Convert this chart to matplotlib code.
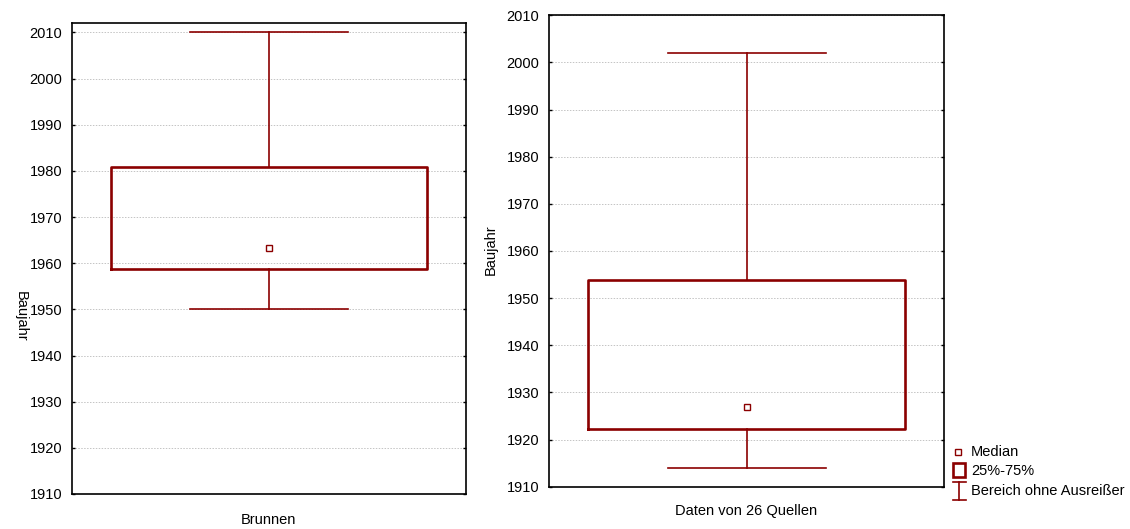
import matplotlib
matplotlib.use("Agg")
import matplotlib.pyplot as plt
from matplotlib.lines import Line2D
from matplotlib.patches import Rectangle

plt.rcParams['font.family'] = ['Liberation Sans', 'DejaVu Sans']
plt.rcParams['font.size'] = 10.5

# --- data ---
panel_labels = ["Brunnen", "Daten von 26 Quellen"]
medians = [1963.4, 1927.0]
q1 = [1958.8, 1922.2]
q3 = [1980.9, 1953.9]
whis_lo = [1950.0, 1914.0]
whis_hi = [2010.0, 2002.0]
y_ticks = [1910, 1920, 1930, 1940, 1950, 1960, 1970, 1980, 1990, 2000, 2010]
y_limits = [(1910, 2012.1), (1910, 2010)]
y_label = "Baujahr"
legend_labels = ["Median", "25%-75%", "Bereich ohne Ausreißer"]

red = '#8b0000'
fig = plt.figure(figsize=(11.3, 5.29), dpi=100)

# axes rectangles in figure fractions (left, bottom, width, height)
rects = [(0.0635, 0.0662, 0.3489, 0.8908), (0.4858, 0.0800, 0.3499, 0.8911)]

for i, rect in enumerate(rects):
    ax = fig.add_axes(rect)
    stats = [dict(med=medians[i], q1=q1[i], q3=q3[i],
                  whislo=whis_lo[i], whishi=whis_hi[i], fliers=[])]
    ax.bxp(stats, positions=[0], widths=0.8, capwidths=0.4,
           showfliers=False,
           boxprops=dict(color=red, linewidth=1.9),
           whiskerprops=dict(color=red, linewidth=1.2),
           capprops=dict(color=red, linewidth=1.2),
           medianprops=dict(linestyle='none'))
    ax.plot([0], [medians[i]], marker='s', markersize=4.5,
            markerfacecolor='white', markeredgecolor=red,
            markeredgewidth=1.0, linestyle='none', zorder=5)
    ax.set_xlim(-0.5, 0.5)
    ax.set_ylim(*y_limits[i])
    ax.set_yticks(y_ticks)
    ax.set_xticks([])
    ax.yaxis.grid(True, color='#c4c4c4', linestyle=(0, (1.5, 1.5)), linewidth=0.7)
    ax.set_axisbelow(True)
    ax.tick_params(axis='y', direction='in', length=2.5, width=1.0,
                   right=True, pad=7, labelsize=10.5)
    for sp in ax.spines.values():
        sp.set_linewidth(1.2)

# axis labels placed to match the reference
fig.text(21 / 1130, 1 - 316 / 529, y_label, rotation=270, ha='center', va='center')
fig.text(491 / 1130, 1 - 250 / 529, y_label, rotation=90, ha='center', va='center')
fig.text(268 / 1130, 1 - 520 / 529, panel_labels[0], ha='center', va='center')
fig.text(746 / 1130, 1 - 511 / 529, panel_labels[1], ha='center', va='center')

# legend drawn by hand
def fx(px):
    return px / 1130

def fy(py):
    return 1 - py / 529

fig.add_artist(Line2D([fx(958)], [fy(452)], marker='s', markersize=4.5,
                      markerfacecolor='white', markeredgecolor=red,
                      markeredgewidth=1.0, transform=fig.transFigure))
fig.add_artist(Rectangle((fx(953), fy(477)), fx(12), 14 / 529, fill=False,
                         edgecolor=red, linewidth=1.9, transform=fig.transFigure))
fig.add_artist(Line2D([fx(959), fx(959)], [fy(482), fy(500)], color=red,
                      linewidth=1.2, transform=fig.transFigure))
fig.add_artist(Line2D([fx(953), fx(966)], [fy(482), fy(482)], color=red,
                      linewidth=1.2, transform=fig.transFigure))
fig.add_artist(Line2D([fx(953), fx(966)], [fy(500), fy(500)], color=red,
                      linewidth=1.2, transform=fig.transFigure))
for label, py in zip(legend_labels, [452, 471, 491]):
    fig.text(fx(971), fy(py), label, ha='left', va='center')

fig.savefig("out.png", dpi=100)
